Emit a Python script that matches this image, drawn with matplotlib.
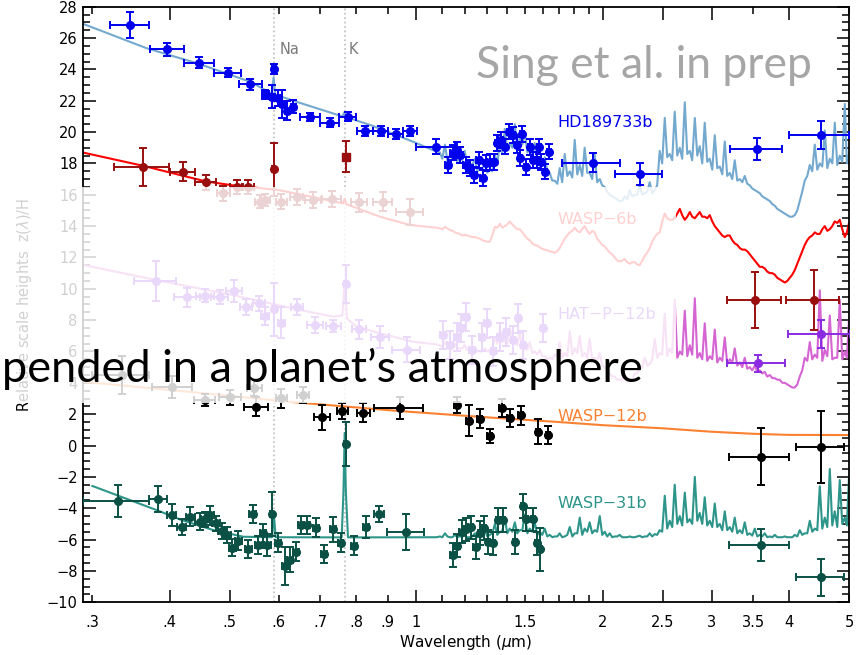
import numpy as np
import matplotlib.pyplot as plt
from matplotlib.patches import Rectangle

plt.rcParams['font.family'] = 'DejaVu Sans'
plt.rcParams['font.size'] = 10.5

#### wavelength grids (micron) for the infrared part of the model spectra
ir_wl = [1.092, 1.113, 1.133, 1.155, 1.176, 1.198, 1.221, 1.244, 1.267, 1.291,
         1.315, 1.340, 1.365, 1.390, 1.416, 1.443, 1.470, 1.497, 1.525, 1.554,
         1.583, 1.613, 1.643, 1.674, 1.705, 1.737, 1.770, 1.803, 1.837, 1.871,
         1.906, 1.942, 1.979, 2.016, 2.054, 2.092, 2.131, 2.171, 2.212, 2.254,
         2.296, 2.339, 2.383, 2.428, 2.473, 2.520, 2.567, 2.615, 2.665, 2.715,
         2.766, 2.818, 2.870, 2.924, 2.979, 3.035, 3.092, 3.150, 3.209, 3.269,
         3.331, 3.393, 3.457, 3.522, 3.588, 3.655, 3.724, 3.794, 3.865, 3.938,
         4.011, 4.087, 4.163, 4.241, 4.321, 4.402, 4.485, 4.569, 4.655, 4.742,
         4.831, 4.922, 5.000]
# in-between samples (continuum level between the line peaks)
ir_wl_mid = [1.102, 1.123, 1.144, 1.165, 1.187, 1.209, 1.232, 1.255, 1.279, 1.303,
             1.327, 1.352, 1.377, 1.403, 1.430, 1.456, 1.484, 1.512, 1.540, 1.569,
             1.598, 1.628, 1.659, 1.690, 1.721, 1.754, 1.787, 1.820, 1.854, 1.889,
             1.924, 1.960, 1.997, 2.035, 2.073, 2.112, 2.151, 2.192, 2.233, 2.275,
             2.317, 2.361, 2.405, 2.450, 2.496, 2.543, 2.591, 2.640, 2.689, 2.740,
             2.791, 2.844, 2.897, 2.951, 3.007, 3.063, 3.121, 3.179, 3.239, 3.300,
             3.362, 3.425, 3.489, 3.555, 3.621, 3.689, 3.759, 3.829, 3.901, 3.974,
             4.049, 4.125, 4.202, 4.281, 4.361, 4.443, 4.527, 4.612, 4.698, 4.786,
             4.876, 4.960]

#### HD189733b
hd_mod_wl = [0.29, 0.367, 0.446, 0.54, 0.585, 0.5885, 0.592, 0.633, 0.70, 0.76,
             0.7665, 0.772, 0.85, 0.93, 1.0, 1.079]
hd_mod = [26.9, 25.35, 24.35, 23.2, 22.45, 23.5, 22.4, 22.0, 21.45, 21.0,
          21.3, 20.95, 20.4, 19.8, 19.3, 18.75]
hd_mod_ir = [18.7, 19.2, 18.5, 19.0, 18.4, 18.8, 18.0, 18.3, 17.7, 18.1,
             17.6, 18.6, 19.4, 20.2, 19.3, 20.5, 19.6, 20.0, 18.9, 19.3,
             18.2, 18.4, 17.4, 16.9, 17.7, 18.6, 17.5, 19.5, 17.9, 19.0,
             17.4, 18.6, 17.0, 16.5, 16.0, 15.8, 15.6, 15.9, 16.3, 16.0,
             16.6, 16.1, 16.8, 16.3, 18.8, 20.9, 18.6, 21.3, 19.0, 21.9,
             18.8, 20.9, 19.1, 20.6, 18.3, 19.8, 17.8, 19.4, 17.4, 18.2,
             17.0, 17.2, 16.6, 16.3, 16.1, 15.8, 15.6, 15.3, 15.0, 14.8,
             14.6, 14.7, 15.6, 16.9, 17.9, 19.2, 18.0, 20.1, 18.3, 20.6,
             18.5, 21.8, 18.6]
hd_mod_mid = [18.3, 18.2, 18.3, 18.1, 18.2, 17.8, 17.9, 17.5, 17.6, 17.4,
              17.5, 17.9, 18.6, 18.9, 19.0, 19.1, 19.2, 18.7, 18.6, 18.2,
              17.9, 17.5, 16.9, 16.7, 16.8, 17.2, 17.1, 17.3, 17.2, 17.4,
              17.0, 16.8, 16.6, 16.2, 15.9, 15.7, 15.6, 15.7, 15.9, 16.0,
              16.0, 16.2, 16.1, 16.6, 18.0, 18.4, 18.2, 18.5, 18.3, 18.6,
              18.2, 18.5, 18.0, 18.1, 17.6, 17.7, 17.3, 17.2, 17.0, 16.9,
              16.8, 16.7, 16.4, 16.2, 15.9, 15.7, 15.4, 15.1, 14.9, 14.7,
              14.6, 15.0, 16.2, 17.2, 17.5, 17.6, 17.8, 17.7, 18.0, 17.9,
              18.1, 18.0]
hd_wl = [0.345, 0.396, 0.446, 0.496, 0.540, 0.571, 0.586, 0.589, 0.598, 0.608,
         0.619, 0.633, 0.675, 0.725, 0.775, 0.826, 0.877, 0.926, 0.977, 1.078,
         1.126, 1.145, 1.162, 1.179, 1.203, 1.221, 1.241, 1.262, 1.280, 1.298,
         1.315, 1.336, 1.352, 1.369, 1.391, 1.413, 1.434, 1.456, 1.471, 1.483,
         1.504, 1.526, 1.545, 1.565, 1.580, 1.593, 1.615, 1.640, 1.927, 2.297,
         3.553, 4.504]
hd_z = [26.83, 25.28, 24.43, 23.79, 23.05, 22.41, 22.26, 24.03, 22.16, 21.77,
        21.37, 21.62, 20.94, 20.60, 20.98, 20.07, 20.07, 19.88, 20.07, 19.07,
        17.90, 18.69, 18.86, 18.54, 17.90, 17.69, 17.26, 18.22, 17.05, 18.01,
        18.11, 18.11, 19.32, 19.50, 19.07, 20.03, 19.81, 19.18, 18.33, 19.86,
        17.75, 19.03, 18.22, 18.22, 19.07, 18.11, 17.48, 18.75, 18.05, 17.33,
        18.90, 19.81]
hd_xerr = [0.025, 0.025, 0.025, 0.025, 0.023, 0.008, 0.006, 0.004, 0.006, 0.006,
           0.006, 0.006, 0.025, 0.025, 0.025, 0.025, 0.025, 0.025, 0.025, 0.078] \
          + [0.012] * 28 + [0.21, 0.20, 0.345, 0.50]
hd_zerr = [0.83, 0.42, 0.36, 0.30, 0.35, 0.30, 0.75, 0.30, 0.50, 0.90,
           0.60, 0.40, 0.25, 0.30, 0.30, 0.30, 0.30, 0.30, 0.30, 0.50] \
          + [0.5] * 28 + [0.60, 0.70, 0.70, 0.90]

#### WASP-6b
w6_mod_wl = [0.29, 0.362, 0.4575, 0.506, 0.60, 0.70, 0.762, 0.7665, 0.771, 0.874,
             0.977, 1.079]
w6_mod = [18.69, 17.85, 16.85, 16.6, 16.3, 15.75, 15.45, 15.75, 15.4, 14.6,
          14.07, 13.9]
w6_mod_ir = [13.86, 13.95, 13.75, 13.6, 13.5, 13.45, 13.35, 13.3, 13.2, 13.05,
             13.0, 13.95, 14.15, 14.0, 14.3, 13.95, 13.8, 13.4, 13.1, 12.8,
             12.65, 12.5, 12.4, 12.3, 12.6, 13.2, 13.6, 13.9, 13.6, 14.0,
             13.5, 13.6, 13.0, 12.7, 12.3, 12.0, 11.75, 11.9, 11.6, 11.7,
             11.5, 12.1, 12.6, 13.3, 13.6, 14.8, 14.4, 14.5, 15.1, 14.4,
             14.9, 14.5, 14.9, 14.6, 14.7, 14.0, 13.6, 13.3, 13.4, 12.9,
             12.6, 12.5, 12.2, 11.8, 11.4, 11.3, 11.0, 10.9, 10.6, 10.4,
             10.7, 11.2, 12.0, 12.8, 13.3, 13.6, 13.5, 14.0, 13.8, 14.3,
             14.4, 13.3, 14.2]
w6_mod_mid = [13.8, 13.85, 13.7, 13.55, 13.4, 13.4, 13.3, 13.25, 13.1, 13.0,
              13.4, 13.9, 13.9, 14.1, 14.1, 13.8, 13.6, 13.2, 12.9, 12.75,
              12.55, 12.45, 12.35, 12.4, 12.9, 13.4, 13.7, 13.7, 13.8, 13.7,
              13.7, 13.2, 12.8, 12.5, 12.2, 11.8, 11.8, 11.7, 11.7, 11.55,
              11.8, 12.3, 13.0, 13.5, 14.3, 14.5, 14.4, 14.8, 14.7, 14.6,
              14.6, 14.7, 14.6, 14.5, 14.3, 13.8, 13.4, 13.4, 13.1, 12.8,
              12.5, 12.4, 12.0, 11.6, 11.4, 11.1, 11.0, 10.7, 10.5, 10.5,
              10.9, 11.6, 12.4, 13.1, 13.4, 13.5, 13.8, 13.7, 14.0, 14.2,
              13.8, 13.6]
w6_wl = [0.362, 0.420, 0.4575, 0.488, 0.513, 0.536, 0.560, 0.571, 0.589, 0.606,
         0.641, 0.682, 0.730, 0.809, 0.883, 0.977, 3.53, 4.39]
w6_z = [17.79, 17.47, 16.79, 16.09, 16.48, 16.52, 15.56, 15.67, 17.63, 15.56,
        15.87, 15.67, 15.71, 15.52, 15.56, 14.90, 9.29, 9.29]
w6_xerr = [0.037, 0.020, 0.018, 0.012, 0.012, 0.012, 0.010, 0.010, 0.003, 0.012,
           0.015, 0.020, 0.025, 0.025, 0.030, 0.050, 0.355, 0.430]
w6_zerr = [1.2, 0.6, 0.5, 0.5, 0.45, 0.45, 0.4, 0.4, 1.7, 0.5,
           0.5, 0.5, 0.5, 0.6, 0.6, 0.8, 1.8, 1.9]
w6_k_wl, w6_k_z, w6_k_zerr = [0.769], [18.43], [1.0]

#### HAT-P-12b
h12_mod_wl = [0.29, 0.38, 0.506, 0.649, 0.735, 0.760, 0.7665, 0.773, 0.80, 0.874,
              0.99, 1.079]
h12_mod = [11.52, 10.56, 9.6, 8.65, 8.22, 8.3, 10.35, 8.1, 7.6, 7.16,
           6.62, 6.45]
h12_mod_ir = [6.4, 6.6, 6.3, 6.5, 6.2, 6.4, 6.1, 6.3, 6.0, 6.2,
              6.1, 6.9, 7.4, 6.7, 7.6, 6.8, 7.2, 6.4, 6.6, 6.0,
              6.1, 5.7, 5.6, 5.8, 6.6, 5.9, 7.3, 6.2, 7.0, 5.9,
              6.8, 5.6, 5.9, 5.0, 4.6, 4.4, 4.2, 4.4, 4.1, 4.6,
              4.9, 5.6, 5.2, 6.8, 5.9, 8.4, 6.2, 9.3, 6.0, 8.6,
              6.4, 9.4, 5.9, 7.8, 5.7, 7.4, 5.6, 6.9, 5.5, 6.2,
              5.3, 5.6, 5.0, 5.1, 4.8, 4.7, 4.5, 4.3, 4.2, 4.0,
              3.8, 3.7, 4.4, 5.6, 6.6, 5.8, 9.9, 6.1, 8.3, 5.6,
              9.3, 6.0, 8.1]
h12_mod_mid = [6.3, 6.3, 6.3, 6.2, 6.2, 6.1, 6.1, 6.0, 6.0, 6.0,
               6.2, 6.5, 6.6, 6.5, 6.6, 6.4, 6.2, 6.1, 5.9, 5.8,
               5.7, 5.5, 5.5, 5.7, 5.6, 5.7, 5.8, 5.9, 5.7, 5.6,
               5.5, 5.4, 5.1, 4.7, 4.4, 4.2, 4.2, 4.1, 4.2, 4.6,
               5.0, 5.1, 5.5, 5.6, 5.8, 5.7, 5.9, 5.6, 5.8, 5.7,
               5.8, 5.6, 5.5, 5.4, 5.5, 5.3, 5.4, 5.2, 5.3, 5.1,
               5.0, 4.9, 4.8, 4.7, 4.6, 4.4, 4.3, 4.2, 4.0, 3.9,
               3.7, 3.9, 4.8, 5.4, 5.5, 5.6, 5.4, 5.7, 5.5, 5.6,
               5.5, 5.6]
h12_wl = [0.380, 0.427, 0.456, 0.482, 0.508, 0.531, 0.558, 0.570, 0.590, 0.606,
          0.642, 0.686, 0.735, 0.770, 0.809, 0.874, 0.965,
          1.105, 1.133, 1.162, 1.183, 1.203, 1.229, 1.275, 1.299, 1.332, 1.365,
          1.399, 1.434, 1.461, 1.488, 1.603, 3.56, 4.50]
h12_z = [10.50, 9.46, 9.56, 9.50, 9.88, 8.82, 9.07, 8.26, 8.69, 7.84,
         8.82, 7.69, 7.63, 10.31, 7.42, 6.94, 6.10,
         7.05, 6.41, 6.94, 7.48, 8.22, 6.10, 6.90, 7.79, 6.00, 6.94,
         7.26, 6.73, 8.11, 6.41, 7.48, 5.24, 7.10]
h12_xerr = [0.030, 0.020, 0.015, 0.015, 0.015, 0.012, 0.012, 0.008, 0.004, 0.008,
            0.015, 0.020, 0.020, 0.004, 0.020, 0.030, 0.050] \
           + [0.012] * 15 + [0.385, 0.520]
h12_zerr = [1.25, 0.6, 0.4, 0.45, 0.7, 0.5, 0.5, 0.6, 1.7, 1.0,
            0.5, 0.5, 0.4, 1.2, 0.6, 0.7, 0.8] + [0.9] * 15 + [0.55, 0.9]

#### WASP-12b
w12_mod_wl = [0.29, 0.45, 0.62, 0.94, 1.3, 1.7, 2.0, 2.5, 3.0, 3.5, 4.0, 5.0]
w12_mod = [4.07, 3.35, 2.8, 2.2, 1.8, 1.5, 1.3, 1.1, 0.88, 0.75, 0.68, 0.67]
w12_wl = [0.335, 0.404, 0.456, 0.501, 0.548, 0.552, 0.606, 0.657, 0.705, 0.760,
          0.821, 0.941, 1.162, 1.216, 1.267, 1.315, 1.374, 1.416, 1.474, 1.574,
          1.630, 3.60, 4.50]
w12_z = [4.50, 3.75, 2.90, 3.07, 3.65, 2.48, 3.01, 3.22, 1.80, 2.22,
         2.09, 2.37, 2.58, 1.58, 1.70, 0.63, 2.40, 1.76, 1.92, 0.88,
         0.67, -0.71, -0.08]
w12_xerr = [0.035, 0.030, 0.018, 0.020, 0.015, 0.025, 0.012, 0.015, 0.020, 0.015,
            0.020, 0.085] + [0.012] * 9 + [0.405, 0.400]
w12_zerr = [1.2, 0.7, 0.4, 0.5, 0.5, 0.6, 0.6, 0.5, 0.8, 0.5,
            0.6, 0.7, 0.5, 1.0, 0.6, 0.45, 0.6, 0.6, 0.6, 0.8,
            0.6, 1.8, 2.3]

#### WASP-31b
w31_mod_wl = [0.30, 0.381, 0.418, 0.470, 0.526, 0.585, 0.5875, 0.589, 0.5905, 0.593,
              0.758, 0.763, 0.7665, 0.770, 0.776, 1.079]
w31_mod = [-2.58, -4.12, -4.75, -5.39, -5.82, -5.85, -4.9, -4.4, -4.9, -5.85,
           -5.86, -3.0, 0.8, -3.0, -5.86, -5.85]
w31_mod_ir = [-5.8, -5.6, -5.85, -5.7, -5.8, -5.75, -5.85, -5.6, -5.8, -5.4,
              -5.7, -5.0, -5.5, -4.6, -5.3, -4.9, -5.4, -4.4, -5.3, -4.9,
              -5.5, -5.3, -5.7, -5.8, -5.6, -5.8, -5.2, -5.6, -4.6, -5.3,
              -4.9, -5.4, -4.5, -5.5, -5.6, -5.8, -5.7, -5.85, -5.8, -5.85,
              -5.75, -5.8, -5.6, -5.65, -5.4, -3.2, -4.8, -2.5, -4.5, -3.0,
              -4.7, -2.0, -4.3, -3.3, -4.8, -3.7, -5.0, -4.2, -5.2, -4.6,
              -5.4, -4.9, -5.6, -5.3, -5.7, -5.6, -5.8, -5.7, -5.85, -5.8,
              -5.85, -5.7, -5.4, -5.6, -4.8, -5.3, -2.6, -4.6, -1.5, -4.2,
              -2.2, -4.6, -2.0]
w31_mod_mid = [-5.85, -5.8, -5.85, -5.85, -5.8, -5.85, -5.8, -5.85, -5.75, -5.8,
               -5.6, -5.7, -5.5, -5.6, -5.5, -5.6, -5.4, -5.6, -5.5, -5.7,
               -5.7, -5.8, -5.85, -5.8, -5.85, -5.7, -5.8, -5.6, -5.7, -5.5,
               -5.6, -5.5, -5.7, -5.8, -5.85, -5.8, -5.85, -5.85, -5.85, -5.8,
               -5.85, -5.8, -5.8, -5.7, -5.5, -5.3, -5.2, -5.0, -5.1, -4.9,
               -5.0, -4.8, -5.0, -5.1, -5.2, -5.2, -5.4, -5.4, -5.5, -5.6,
               -5.6, -5.7, -5.75, -5.8, -5.8, -5.85, -5.85, -5.85, -5.85, -5.85,
               -5.85, -5.8, -5.7, -5.6, -5.5, -5.4, -5.3, -5.2, -5.1, -5.2,
               -5.0, -5.1]
w31_wl = [0.330, 0.383, 0.403, 0.418, 0.432, 0.447, 0.456, 0.465, 0.475, 0.485,
          0.495, 0.505, 0.516, 0.536, 0.545, 0.556, 0.566, 0.575, 0.584, 0.598,
          0.614, 0.625, 0.640, 0.651, 0.667, 0.690, 0.710, 0.733, 0.755, 0.769,
          0.793, 0.830, 0.872, 0.962,
          1.145, 1.166, 1.184, 1.203, 1.224, 1.247, 1.267, 1.286, 1.307, 1.331,
          1.356, 1.382, 1.443, 1.485, 1.506, 1.545, 1.565, 1.584,
          3.60, 4.50]
w31_z = [-3.54, -3.41, -4.44, -5.18, -4.55, -4.86, -4.71, -4.44, -4.97, -5.46,
         -5.71, -6.52, -6.08, -6.60, -4.37, -6.35, -5.60, -6.35, -4.37, -6.20,
         -7.67, -7.30, -6.78, -5.07, -5.07, -5.25, -6.92, -5.35, -6.20, 0.07,
         -6.40, -5.22, -4.37, -5.50,
         -6.99, -6.39, -5.50, -5.35, -5.22, -6.50, -5.57, -5.25, -6.14, -6.24,
         -4.75, -4.75, -6.14, -3.85, -4.71, -4.71, -6.24, -6.63,
         -6.35, -8.41]
w31_xerr = [0.040, 0.013] + [0.007] * 16 + [0.004, 0.007,
            0.007, 0.007, 0.007, 0.007, 0.007, 0.008, 0.007, 0.008, 0.007, 0.003,
            0.008, 0.008, 0.016, 0.066] + [0.010] * 18 + [0.405, 0.400]
w31_zerr = [1.05, 0.8, 0.7, 0.5, 0.6, 0.55, 0.5, 0.6, 0.5, 0.5,
            0.5, 0.55, 0.6, 0.6, 0.6, 0.6, 0.6, 0.7, 1.4, 0.6,
            1.2, 0.8, 0.6, 0.6, 0.6, 0.6, 0.6, 0.8, 0.6, 1.4,
            0.6, 0.7, 0.5, 1.15] + [0.75] * 17 + [1.35, 1.0, 1.2]

#### plotting
fig = plt.figure(figsize=(8.63, 6.55), dpi=100)
ax = fig.add_axes([0.0965, 0.0805, 0.8873, 0.9093])
ax.set_xscale('log')

for w in [0.589, 0.768]:
    ax.axvline(w, color='#bdbdbd', ls=':', lw=1.2, zorder=1)

def model(wl, z, color, z_ir=None, z_mid=None):
    wl = list(wl)
    z = list(z)
    if z_ir is not None:
        # merge the two infrared samplings in wavelength order
        w_ir = np.array(ir_wl + ir_wl_mid)
        v_ir = np.array(list(z_ir) + list(z_mid))
        order = np.argsort(w_ir)
        wl += list(w_ir[order])
        z += list(v_ir[order])
    ax.plot(wl, z, color=color, lw=1.5, zorder=2)

def points(wl, z, xerr, zerr, color, marker='o'):
    ax.errorbar(wl, z, xerr=xerr, yerr=zerr, fmt=marker, ms=5.5, color=color,
                ecolor=color, elinewidth=1.4, capsize=3.2, capthick=1.4, zorder=3)

model(hd_mod_wl, hd_mod, '#74a9cf', hd_mod_ir, hd_mod_mid)
model(w6_mod_wl, w6_mod, '#ff0000', w6_mod_ir, w6_mod_mid)
model(h12_mod_wl, h12_mod, '#d565d3', h12_mod_ir, h12_mod_mid)
model(w12_mod_wl, w12_mod, '#fb8131')
model(w31_mod_wl, w31_mod, '#2e958a', w31_mod_ir, w31_mod_mid)

points(hd_wl, hd_z, hd_xerr, hd_zerr, '#0000ee')
points(w6_wl, w6_z, w6_xerr, w6_zerr, '#990f0f')
points(w6_k_wl, w6_k_z, [0.003], w6_k_zerr, '#990f0f', marker='s')
points(h12_wl, h12_z, h12_xerr, h12_zerr, '#8a2be2')
points(w12_wl, w12_z, w12_xerr, w12_zerr, 'black')
points(w31_wl, w31_z, w31_xerr, w31_zerr, '#0b5045')

# planet names
lab_x = 1.69
ax.text(lab_x, 20.58, 'HD189733b', color='#0000ee', va='center', fontsize=11.5)
ax.text(lab_x, 14.39, 'WASP\u22126b', color='#ff0000', va='center', fontsize=11.5)
ax.text(lab_x, 8.33, 'HAT\u2212P\u221212b', color='#8a2be2', va='center', fontsize=11.5)
ax.text(lab_x, 1.84, 'WASP\u221212b', color='#fb8131', va='center', fontsize=11.5)
ax.text(lab_x, -3.67, 'WASP\u221231b', color='#2e958a', va='center', fontsize=11.5)
ax.text(0.602, 25.24, 'Na', color='#7a7a7a', va='center', fontsize=10.5)
ax.text(0.778, 25.24, 'K', color='#7a7a7a', va='center', fontsize=10.5)

# axes
ax.set_xlim(0.29, 5)
ax.set_ylim(-10, 28)
major_x = [0.4, 0.5, 1, 2, 2.5, 3, 4]
minor_x = [0.3, 0.6, 0.7, 0.8, 0.9, 1.1, 1.2, 1.3, 1.4, 1.5, 1.6, 1.7, 1.8, 1.9, 3.5, 5]
minor_lab = ['.3', '.6', '.7', '.8', '.9', '', '', '', '', '1.5', '', '', '', '', '3.5', '5']
ax.set_xticks(major_x, ['.4', '.5', '1', '2', '2.5', '3', '4'])
ax.set_xticks(minor_x, minor_lab, minor=True)
ax.set_yticks(np.arange(-10, 29, 2))
ax.set_yticks(np.arange(-10, 28.1, 0.5), minor=True)
ax.tick_params(which='both', direction='in', top=True, right=True, width=1.1,
               labelsize=10.5, colors='black')
ax.tick_params(which='major', length=9)
ax.tick_params(which='minor', length=5)
ax.tick_params(axis='x', which='both', pad=9)
ax.tick_params(axis='y', which='both', pad=4)
for s in ax.spines.values():
    s.set_linewidth(1.3)
ax.set_xlabel('Wavelength ($\\mu$m)', fontsize=11, labelpad=2)
ax.set_ylabel('Relative scale heights  z($\\lambda$)/H', fontsize=10.5, labelpad=9)

# washed-out band across the middle of the slide
fig.patches.append(Rectangle((0, 252 / 655), 676 / 863, 216 / 655, transform=fig.transFigure,
                             facecolor='white', alpha=0.82, edgecolor='none', zorder=5))

fig.text(476 / 863, 1 - 78 / 655, 'Sing et al. in prep', color='#a6a6a6',
         fontsize=32, family=['Lato', 'DejaVu Sans'], va='baseline', zorder=6)
fig.text(0.002, 1 - 381.7 / 655, 'pended in a planet\u2019s atmosphere', color='black',
         fontsize=32.5, family=['Lato', 'DejaVu Sans'], va='baseline', zorder=6)

fig.savefig('out.png', dpi=100)
